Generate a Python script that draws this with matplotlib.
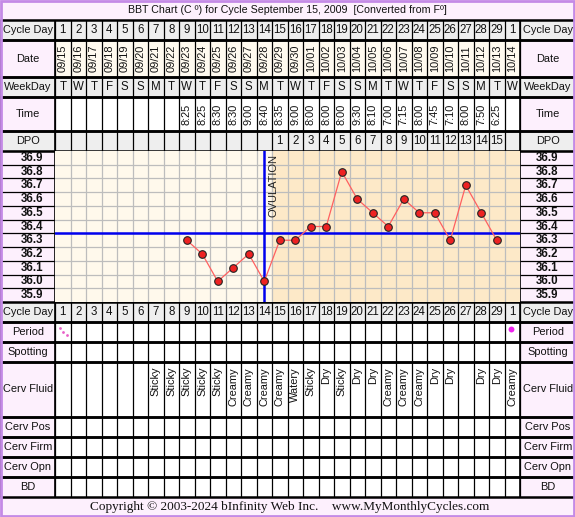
import numpy as np
import matplotlib.pyplot as plt
from matplotlib.patches import Rectangle

plt.rcParams['font.family'] = ['Liberation Sans', 'DejaVu Sans']

# ---- data ----
cycle_days = [str(d) for d in range(1, 30)] + ["1"]
dates = ["09/15", "09/16", "09/17", "09/18", "09/19", "09/20", "09/21", "09/22",
         "09/23", "09/24", "09/25", "09/26", "09/27", "09/28", "09/29", "09/30",
         "10/01", "10/02", "10/03", "10/04", "10/05", "10/06", "10/07", "10/08",
         "10/09", "10/10", "10/11", "10/12", "10/13", "10/14"]
weekdays = ["T", "W", "T", "F", "S", "S", "M", "T", "W", "T", "F", "S", "S", "M", "T",
            "W", "T", "F", "S", "S", "M", "T", "W", "T", "F", "S", "S", "M", "T", "W"]
times = ["", "", "", "", "", "", "", "", "8:25", "8:25", "8:30", "8:30", "9:00", "8:40",
         "8:35", "9:00", "8:00", "8:00", "8:00", "9:30", "8:10", "7:00", "7:15", "8:00",
         "7:45", "7:10", "8:00", "7:50", "6:25", ""]
dpo = [""] * 14 + [str(d) for d in range(1, 16)] + [""]
temp_days = list(range(9, 30))
temps = [36.3, 36.2, 36.0, 36.1, 36.2, 36.0, 36.3, 36.3, 36.4, 36.4, 36.8, 36.6,
         36.5, 36.4, 36.6, 36.5, 36.5, 36.3, 36.7, 36.5, 36.3]
temp_labels = ["36.9", "36.8", "36.7", "36.6", "36.5", "36.4", "36.3", "36.2",
               "36.1", "36.0", "35.9"]
cerv_fluid = ["", "", "", "", "", "", "Sticky", "Sticky", "Sticky", "Sticky", "Sticky",
              "Creamy", "Creamy", "Creamy", "Creamy", "Watery", "Sticky", "Dry", "Sticky",
              "Dry", "Dry", "Creamy", "Creamy", "Creamy", "Dry", "Dry", "", "Dry", "Dry",
              "Creamy"]
coverline = 36.35
ovulation_day = 14

# ---- layout (pixels) ----
W, H = 575, 517
X0, CW, N = 55, 15.5, 30
XR = X0 + CW * N
edges = X0 + CW * np.arange(N + 1)
PINK, GRAY, CREAM, WHITE = "#fdf0fd", "#eeeeee", "#fffaef", "#ffffff"
PRE, POST = "#fff9ec", "#fde9c8"
LFS = 7.9  # label font size

fig = plt.figure(figsize=(W / 100, H / 100), dpi=100)
tab = fig.add_axes([0, 0, 1, 1])
tab.set_xlim(0, W)
tab.set_ylim(H, 0)
tab.axis("off")


def cell(x0, x1, y0, y1, fc):
    tab.add_patch(Rectangle((x0, y0), x1 - x0, y1 - y0, fc=fc, ec="none", zorder=0))


def row(label, y0, y1, label_fc, cell_fc, values=None, rot=0, va="center", fs=8.3):
    for xl in (0, XR):
        cell(xl, xl + X0 if xl == 0 else W, y0, y1, label_fc)
        tab.text(xl + 28 if xl == 0 else XR + 28, (y0 + y1) / 2, label,
                 ha="center", va="center", fontsize=LFS, color="#111111")
    cell(X0, XR, y0, y1, cell_fc)
    if values is not None:
        for i, v in enumerate(values):
            cx = (edges[i] + edges[i + 1]) / 2
            ty = (y0 + y1) / 2 if va == "center" else y0 + 5
            tab.text(cx, ty, v, ha="center", va=va, rotation=rot, fontsize=fs,
                     color="#111111")
    tab.vlines(edges, y0, y1, color="black", lw=0.9, zorder=3)
    tab.vlines([0.5, X0, XR], y0, y1, color="black", lw=1.2, zorder=3)
    tab.hlines([y0, y1], 0, W, color="black", lw=1.8, zorder=4)


# title and footer
cell(0, W, 0, 20, PINK)
tab.text(W / 2, 10, "BBT Chart (C º) for Cycle September 15, 2009  [Converted from Fº]",
         ha="center", va="center", fontsize=7.7, color="#111111")
cell(0, W, 497, H, PINK)
tab.text(W / 2 + 2, 507, "Copyright © 2003-2024 bInfinity Web Inc.    www.MyMonthlyCycles.com",
         ha="center", va="center", fontsize=9.5, family=["Liberation Serif", "DejaVu Serif"],
         color="#111111")

# header rows
row("Cycle Day", 20, 40, GRAY, GRAY, cycle_days)
row("Date", 40, 77, PINK, CREAM, dates, rot=90, fs=7.9)
row("WeekDay", 77, 97, GRAY, GRAY, weekdays)
row("Time", 97, 131, PINK, WHITE, times, rot=90, fs=7.9)
row("DPO", 131, 151, GRAY, GRAY, dpo)

# bottom rows
row("Cycle Day", 302, 322, GRAY, GRAY, cycle_days)
row("Period", 322, 342, PINK, WHITE)
row("Spotting", 342, 362, PINK, WHITE)
row("Cerv Fluid", 362, 417, PINK, WHITE, cerv_fluid, rot=90, va="top", fs=7.9)
row("Cerv Pos", 417, 437, PINK, WHITE)
row("Cerv Firm", 437, 457, PINK, WHITE)
row("Cerv Opn", 457, 477, PINK, WHITE)
row("BD", 477, 497, PINK, WHITE)

# period markers
tab.scatter([59.5, 63.3, 67.2], [328.3, 331.7, 335], s=4, color="#e860c8", lw=0,
            zorder=5)
tab.scatter([(edges[29] + edges[30]) / 2 - 1], [329], s=18, color="#ee22ee", lw=0,
            zorder=5)

# temperature label columns
ry = np.linspace(151, 302, len(temp_labels) + 1)
for j, lab in enumerate(temp_labels):
    for xl, xr in ((0, X0), (XR, W)):
        cell(xl, xr, ry[j], ry[j + 1], PINK)
        tab.text((xl + xr) / 2 + (5 if xl == 0 else 0), (ry[j] + ry[j + 1]) / 2, lab,
                 ha="center", va="center", fontsize=8.3, fontweight="bold",
                 color="#111111")
    tab.hlines(ry[j], 0, X0, color="black", lw=0.9, zorder=3)
    tab.hlines(ry[j], XR, W, color="black", lw=0.9, zorder=3)
tab.vlines([0.5, X0, XR], 151, 302, color="black", lw=1.2, zorder=3)

# outer border
tab.add_patch(Rectangle((0.8, 0.8), W - 1.6, H - 1.6, fc="none", ec="#c48ae6", lw=2,
                        zorder=6))

# ---- temperature chart ----
ax = fig.add_axes([X0 / W, (H - 302) / H, (XR - X0) / W, 151 / H])
ax.set_xlim(0.5, N + 0.5)
ax.set_ylim(35.85, 36.95)
ax.axis("off")
ax.axvspan(0.5, ovulation_day + 0.5, color=PRE, zorder=0)
ax.axvspan(ovulation_day + 0.5, N + 0.5, color=POST, zorder=0)
for xv in np.arange(1.5, N + 0.5, 1):
    ax.axvline(xv, color="#bdbdbd", lw=0.9, zorder=1)
for yv in np.arange(35.95, 36.9, 0.1):
    ax.axhline(yv, color="#bdbdbd", lw=0.9, zorder=1)
ax.axhline(coverline, color="#0000ee", lw=1.8, zorder=3)
ax.axvline(ovulation_day, color="#0000ee", lw=1.8, zorder=3)
ax.text(ovulation_day + 0.25, 36.93, "OVULATION", rotation=90, ha="left", va="top",
        fontsize=8, color="#222222", zorder=4)
ax.plot(temp_days, temps, color="#ff6060", lw=0.9, zorder=4)
ax.scatter(temp_days, temps, s=30, color="#ee2222", edgecolor="#222222", lw=0.8,
           zorder=5)

fig.savefig("out.png", dpi=100)
